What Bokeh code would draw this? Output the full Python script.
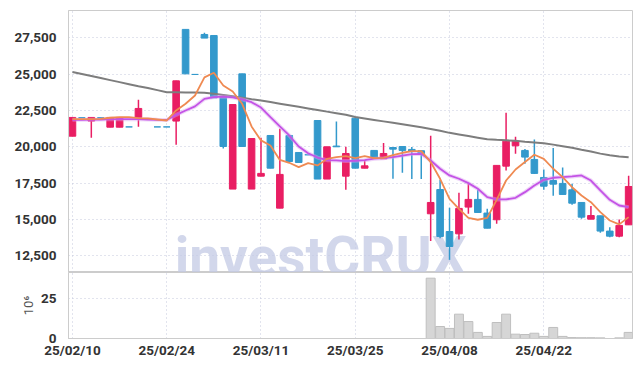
from bokeh.plotting import figure
from bokeh.models import Range1d, FixedTicker, ColumnDataSource, NumeralTickFormatter
from bokeh.layouts import column
from bokeh.embed import file_html
from bokeh.resources import INLINE
from bokeh.core.properties import value

# ---------------- data ----------------
tick_idx = [0, 10, 20, 30, 40, 50]
tick_labels = ["25/02/10", "25/02/24", "25/03/11", "25/03/25", "25/04/08", "25/04/22"]
price_ticks = [12500, 15000, 17500, 20000, 22500, 25000, 27500]
vol_ticks = [0, 25]

opens = [20730, 22000, 21770, 22000, 21350, 21350, 21370, 22020, 21900, 21370,
         21370, 21770, 28080, 24980, 27730, 27660, 23460, 17090, 25020, 17090,
         17980, 20780, 15780, 20780, 19610, 19450, 21810, 17780, 20050, 17980,
         21970, 18530, 19750, 19170, 19950, 20020, 19820, 19730, 15390, 17060,
         14170, 14010, 15850, 16380, 15440, 14980, 18670, 20070, 19750, 19130,
         17890, 17680, 17480, 17040, 16170, 15020, 15250, 14200, 13850, 14630]
highs = [22020, 22000, 22020, 22000, 22020, 22020, 21370, 23240, 21900, 21370,
         21370, 24540, 28080, 24980, 27850, 27660, 23460, 22910, 25020, 20570,
         20620, 20780, 21240, 20780, 19610, 19450, 21810, 20000, 21740, 20000,
         21970, 19100, 19750, 20270, 19950, 20020, 19980, 19730, 20760, 17730,
         15800, 16830, 17480, 17040, 15730, 18720, 22340, 20690, 19850, 20500,
         18440, 19910, 18580, 17450, 16170, 15920, 15250, 14470, 15000, 18000]
lows = [20730, 22000, 20620, 22000, 21350, 21350, 21370, 21380, 21900, 21370,
        21370, 20140, 25020, 24980, 27480, 23370, 19880, 17090, 20020, 17090,
        17980, 18530, 15780, 18990, 18920, 19450, 17780, 17780, 20000, 17040,
        18530, 18530, 19240, 19170, 17800, 18210, 17780, 17780, 13510, 13710,
        12220, 13620, 15390, 15440, 14400, 14700, 18370, 19520, 18830, 18120,
        17040, 16630, 16720, 16010, 15050, 15020, 14080, 13780, 13780, 14630]
closes = [22020, 22000, 22020, 22000, 22020, 22020, 21370, 22640, 21900, 21370,
          21370, 24540, 25020, 24980, 27480, 23370, 20020, 22910, 20020, 20570,
          18170, 18530, 18100, 18990, 18920, 19450, 17780, 20000, 20000, 19540,
          18530, 18690, 19240, 19540, 19840, 19750, 19680, 19520, 16170, 13830,
          13140, 15760, 16380, 15480, 14400, 18720, 20390, 20390, 19290, 18170,
          17290, 17430, 16720, 16120, 15160, 15270, 14200, 13850, 14590, 17270]

ma_short = [21900, 21900, 21900, 21920, 22000, 22040, 22040, 21970, 21950, 21880,
            21810, 22500, 22960, 23530, 24780, 25100, 24220, 23810, 22960, 21400,
            20440, 20090, 19100, 18900, 18600, 18880, 18720, 19170, 19290, 19360,
            19220, 19360, 19220, 19240, 19430, 19590, 19700, 19700, 18950, 17800,
            16420, 15730, 15110, 14980, 15110, 16350, 17680, 18440, 18950, 19450,
            19170, 18490, 17910, 17220, 16650, 16190, 15500, 14930, 14660, 15160]
ma_mid = [21860, 21860, 21870, 21880, 21900, 21900, 21900, 21900, 21880, 21860,
          21850, 22200, 22500, 22780, 23300, 23420, 23460, 23400, 23260, 23070,
          22700, 22040, 21400, 20780, 20020, 19560, 19260, 19080, 19060, 19020,
          19040, 19080, 19180, 19220, 19290, 19400, 19500, 19520, 19060, 18490,
          18030, 17800, 17500, 17110, 16540, 16380, 16380, 16490, 16880, 17340,
          17730, 17870, 17910, 17960, 18030, 17680, 17000, 16350, 15960, 15850]
ma_long = [25150, 25010, 24870, 24730, 24590, 24450, 24310, 24170, 24040, 23900,
           23760, 23750, 23740, 23740, 23720, 23650, 23570, 23480, 23380, 23280,
           23185, 23080, 22970, 22860, 22750, 22640, 22530, 22420, 22310, 22200,
           22050, 21950, 21850, 21750, 21650, 21550, 21450, 21350, 21230, 21100,
           20960, 20850, 20740, 20630, 20520, 20480, 20450, 20410, 20350, 20300,
           20250, 20150, 20040, 19930, 19800, 19680, 19530, 19420, 19340, 19285]

volume = [0, 0, 0, 0, 0, 0, 0, 0, 0, 0,
          0, 0, 0, 0, 0, 0, 0, 0, 0, 0,
          0, 0, 0, 0, 0, 0, 0, 0, 0, 0,
          0, 0, 0, 0, 0, 0, 0, 0, 37.7, 7.5,
          6.3, 15.2, 10.6, 3.8, 1.3, 10.0, 15.2, 2.7, 2.5, 3.3,
          1.3, 6.9, 1.3, 0.6, 0.5, 0.5, 0.4, 0.0, 0.4, 3.8]

# ---------------- styling ----------------
UP = "#e91e63"
DOWN = "#3399cc"
GRID = "#c4c8dc"
FRAME = "#cccccc"
TICK_FONT = "Roboto"

idx = list(range(len(opens)))
colors = [UP if c > o else DOWN for o, c in zip(opens, closes)]
src = ColumnDataSource(dict(
    x=idx, h=highs, l=lows,
    top=[max(o, c) for o, c in zip(opens, closes)],
    bottom=[min(o, c) for o, c in zip(opens, closes)],
    color=colors,
))

x_range = Range1d(-0.42, 59.41)

p = figure(frame_width=564, frame_height=262, x_range=x_range,
           y_range=Range1d(11350, 29380), output_backend="svg",
           toolbar_location=None, min_border_left=68, min_border_right=4,
           min_border_top=10, min_border_bottom=0)
p.background_fill_color = "white"
p.border_fill_color = "white"
p.outline_line_color = FRAME

# watermark
p.text(x=[10.85], y=[12420], text=["investCRUX"], text_font=value("Roboto"),
       text_font_size="55px", text_font_style="bold", text_color="#c3cae4",
       text_alpha=0.75, text_baseline="alphabetic", text_align="left")

p.segment(x0="x", y0="l", x1="x", y1="h", color="color", line_width=1.5, source=src)
p.vbar(x="x", top="top", bottom="bottom", width=0.7, fill_color="color",
       line_color="color", line_width=1, source=src)

p.line(idx, ma_long, color="#7d7d7d", line_width=2)
p.line(idx, ma_mid, color="#d9a0f0", line_width=4, alpha=0.45)
p.line(idx, ma_mid, color="#c453e6", line_width=1.8)
p.line(idx, ma_short, color="#ef8a52", line_width=1.8)

p.xaxis.visible = False
p.xaxis.ticker = FixedTicker(ticks=tick_idx)
p.xgrid.ticker = FixedTicker(ticks=tick_idx)
p.yaxis.ticker = FixedTicker(ticks=price_ticks)
p.yaxis.formatter = NumeralTickFormatter(format="0,0")
for g in (p.xgrid, p.ygrid):
    g.grid_line_color = GRID
    g.grid_line_dash = "1 3"
    g.grid_line_width = 1
p.yaxis.axis_line_color = FRAME
p.yaxis.major_tick_line_color = None
p.yaxis.minor_tick_line_color = None
p.yaxis.major_label_standoff = 6
p.yaxis.major_label_text_font = TICK_FONT
p.yaxis.major_label_text_font_size = "13.5px"
p.yaxis.major_label_text_font_style = "bold"
p.yaxis.major_label_text_color = "#333333"

v = figure(frame_width=564, frame_height=66, x_range=x_range,
           y_range=Range1d(0, 41.25), output_backend="svg",
           toolbar_location=None, min_border_left=68, min_border_right=4,
           min_border_top=0, min_border_bottom=4)
v.background_fill_color = "white"
v.border_fill_color = "white"
v.outline_line_color = FRAME
v.vbar(x=idx, top=volume, width=0.95, fill_color="#d6d6d6", line_color="#bfbfbf", line_width=1)

v.xaxis.ticker = FixedTicker(ticks=tick_idx)
v.xaxis.major_label_overrides = {t: s for t, s in zip(tick_idx, tick_labels)}
v.yaxis.ticker = FixedTicker(ticks=vol_ticks)
v.yaxis.axis_label = "10\u2076"
for g in (v.xgrid, v.ygrid):
    g.grid_line_color = GRID
    g.grid_line_dash = "1 3"
    g.grid_line_width = 1
for ax in (v.xaxis, v.yaxis):
    ax.axis_line_color = FRAME
    ax.major_tick_line_color = None
    ax.minor_tick_line_color = None
    ax.major_label_text_font = TICK_FONT
    ax.major_label_text_font_size = "13.5px"
    ax.major_label_text_font_style = "bold"
    ax.major_label_text_color = "#333333"
v.xaxis.major_label_standoff = -3
v.yaxis.major_label_standoff = 6
v.yaxis.axis_label_text_font = TICK_FONT
v.yaxis.axis_label_text_font_size = "13px"
v.yaxis.axis_label_text_font_style = "normal"
v.yaxis.axis_label_text_color = "#555555"
v.yaxis.axis_label_standoff = 2

layout = column(p, v, spacing=0)
open("out.html", "w").write(file_html(layout, INLINE))
